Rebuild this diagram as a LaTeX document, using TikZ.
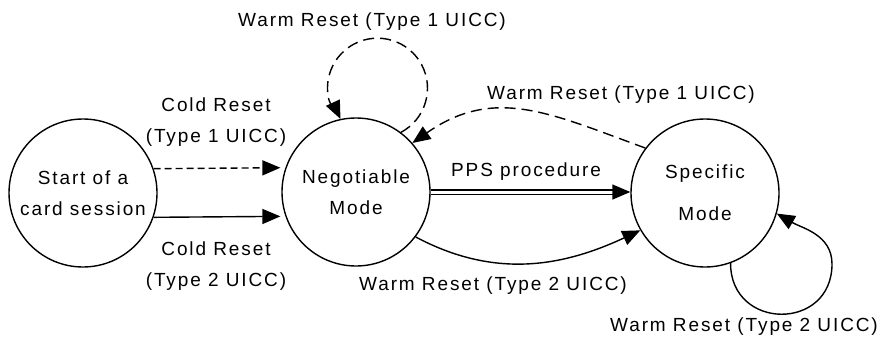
\documentclass[tikz,border=0pt]{standalone}
\usepackage{fontspec}
\setmainfont{Liberation Sans}[LetterSpace=10]
\usetikzlibrary{arrows.meta}
\begin{document}
\begin{tikzpicture}[x=1pt,y=1pt,
  every node/.style={font=\fontsize{19}{31}\selectfont, inner sep=0pt},
  state/.style={circle, draw, line width=1.4pt, minimum size=148pt, align=center},
  conn/.style={line width=1.4pt, -{Triangle[length=18pt,width=15pt]}},
  dshort/.style={dash pattern=on 7pt off 4pt},
  dlong/.style={dash pattern=on 11pt off 6pt},
  lab/.style={align=center}]
\useasboundingbox (0,0) rectangle (882,338);

% states
\node[state] (S) at (83,145) {Start of a\\card session};
\node[state] (N) at (356,146) {Negotiable\\Mode};
\node[state] (P) at (705,145) {Specific\\[11pt]Mode};

% helper coordinate
\coordinate (lb) at (832,74);

% cold resets
\draw[conn,dshort,shorten >=5pt] (S.19) -- (N.161);
\draw[conn,shorten >=5pt] (S.-19) -- (N.199);
\node[lab] (c1) at (216,216) {Cold Reset\\(Type 1 UICC)};
\node[lab] (c2) at (216,72) {Cold Reset\\(Type 2 UICC)};

% warm reset loop on negotiable mode
\draw[conn,dlong] (N.53) arc[start angle=-62,end angle=190,radius=50]
  to[out=280,in=115] (N.102);
\node (w1) at (372,316) {Warm Reset (Type 1 UICC)};

% warm reset type 1 from specific to negotiable
\draw[conn,dlong] (P.143) to[out=160,in=35,looseness=1.1] (N.41);
\node (w2) at (621,243) {Warm Reset (Type 1 UICC)};

% PPS procedure
\draw[conn,double,double distance=3pt] (N.east) -- (N.east -| P.west);
\node (pps) at (526,166) {PPS procedure};

% warm reset type 2 negotiable -> specific
\draw[conn] (N.-37) to[out=-28,in=205] (P.210);
\node (w3) at (493,52) {Warm Reset (Type 2 UICC)};

% warm reset type 2 loop on specific mode
\draw[conn] (P.-70) to[out=-90,in=-90,looseness=1.7] (lb)
  to[out=90,in=-30] (P.-16);
\node (w4) at (744,11) {Warm Reset (Type 2 UICC)};
\end{tikzpicture}
\end{document}
